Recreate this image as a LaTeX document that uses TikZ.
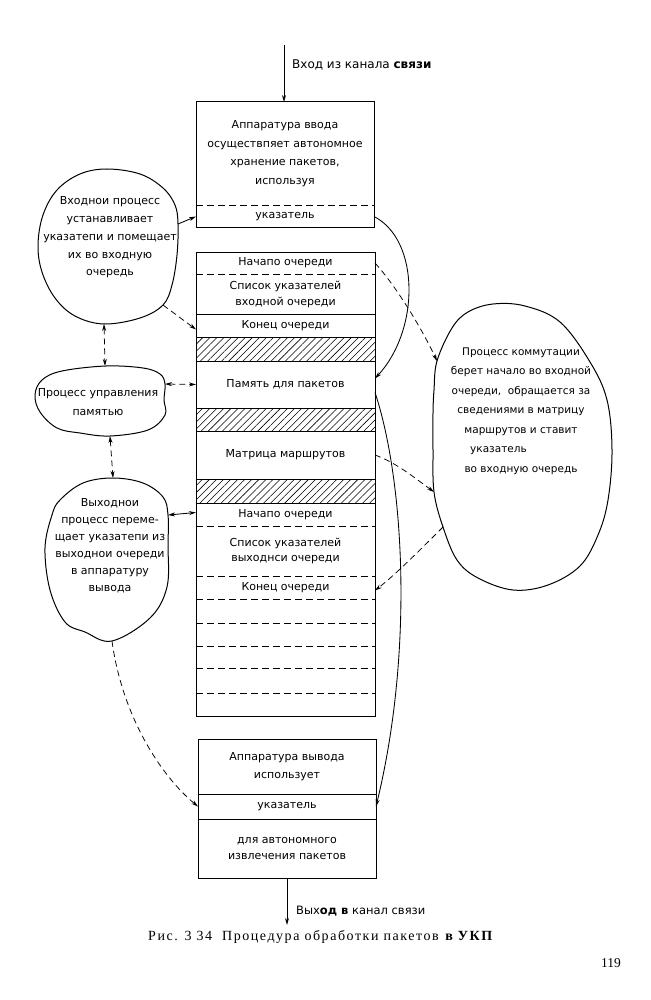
\documentclass[tikz,border=0pt]{standalone}
\usepackage{fontspec}
\setmainfont{DejaVu Sans}
\newfontfamily\capfont[LetterSpace=11]{Liberation Serif}
\newfontfamily\numfont{Liberation Serif}
\usetikzlibrary{arrows.meta,patterns.meta,calc}
\begin{document}
\begin{tikzpicture}[x=1pt,y=-1pt,
  font=\fontsize{11}{17}\selectfont,
  boxline/.style={line width=1pt},
  dsh/.style={line width=0.9pt, dash pattern=on 7pt off 4pt},
  cdsh/.style={line width=0.75pt, dash pattern=on 6pt off 4pt},
  arr/.style={-{Stealth[length=7pt,width=4pt]}, line width=0.85pt},
  darr/.style={{Stealth[length=7pt,width=4pt]}-{Stealth[length=7pt,width=4pt]}, line width=0.85pt},
  row/.style={minimum width=179pt, inner sep=0pt, outer sep=0pt, align=center},
  brow/.style={minimum width=178pt, inner sep=0pt, outer sep=0pt, align=center},
  hatchrow/.style={row, draw, line width=1pt, pattern={Lines[angle=45,distance=5pt,line width=0.55pt]}},
  blob/.style={line width=1pt},
  btext/.style={align=center, inner sep=0pt}
]
\useasboundingbox (0,0) rectangle (650,1000);

% ---------- top box ----------
\node[brow, minimum height=103pt, font=\fontsize{11}{18.5}\selectfont] (in1) at (285,153.5)
  {Аппаратура ввода\\осуществпяет автономное\\хранение пакетов,\\используя};
\node[brow, minimum height=23pt] (in2) at (285,216.5) {указатель};
\draw[boxline] (in1.north west) rectangle (in2.south east);
\draw[dsh] (in1.south west) -- (in1.south east);

% ---------- memory column ----------
\node[row, minimum height=22pt] (q1) at (285.5,263) {Начапо очереди};
\node[row, minimum height=40pt, font=\fontsize{11}{16}\selectfont] (q2) at (285.5,294) {Список указателей\\входной очереди};
\node[row, minimum height=23pt] (q3) at (285.5,325.5) {Конец очереди};
\node[hatchrow, minimum height=24pt] (h1) at (285.5,349) {};
\node[row, minimum height=47pt] (q4) at (285.5,384.5) {Память для пакетов};
\node[hatchrow, minimum height=23pt] (h2) at (285.5,419.5) {};
\node[row, minimum height=48pt] (q5) at (285.5,455) {Матрица маршрутов};
\node[hatchrow, minimum height=24pt] (h3) at (285.5,491) {};
\node[row, minimum height=23pt] (q6) at (285.5,514.5) {Начапо очереди};
\node[row, minimum height=50pt, font=\fontsize{11}{15.5}\selectfont] (q7) at (285.5,551) {Список указателей\\выходнси очереди};
\node[row, minimum height=23pt] (q8) at (285.5,587.5) {Конец очереди};
\node[row, minimum height=24pt] (e1) at (285.5,611) {};
\node[row, minimum height=23pt] (e2) at (285.5,634.5) {};
\node[row, minimum height=22pt] (e3) at (285.5,657) {};
\node[row, minimum height=25pt] (e4) at (285.5,680.5) {};
\node[row, minimum height=23pt] (e5) at (285.5,704.5) {};
\draw[boxline] (q1.north west) rectangle (e5.south east);
\draw[dsh] (q1.south west) -- (q1.south east);
\draw[boxline] (q2.south west) -- (q2.south east);
\foreach \r in {q6,q7,q8,e1,e2,e3,e4}{
  \draw[dsh] (\r.south west) -- (\r.south east);
}

% ---------- bottom box ----------
\node[brow, minimum height=55pt, font=\fontsize{11}{18}\selectfont] (o1) at (287,766.5) {Аппаратура вывода\\использует};
\node[brow, minimum height=25pt] (o2) at (287,806.5) {указатель};
\node[brow, minimum height=59pt, font=\fontsize{11}{16}\selectfont] (o3) at (287,848.5) {для автономного\\извлечения пакетов};
\draw[boxline] (o1.north west) rectangle (o3.south east);
\draw[boxline] (o1.south west) -- (o1.south east);
\draw[boxline] (o2.south west) -- (o2.south east);

% ---------- blobs ----------
\draw[blob] plot[smooth cycle, tension=0.6] coordinates {(107,169) (140,174) (163,188) (175,205) (178,224) (177,255) (172,285) (163,305) (140,318) (104,324) (75,316) (55,298) (42,272) (38,245) (43,215) (57,190) (80,174)};
\node[btext, font=\fontsize{11}{17.8}\selectfont] (b1) at (110,237.5) {Входнои процесс\\устанавливает\\указатепи и помещает\\их во входную\\очередь};

\draw[blob] plot[smooth cycle, tension=0.6] coordinates {(106,366) (143,368) (160,374) (165,384) (164,400) (165,415) (148,430) (110,436) (80,433) (57,428) (40,412) (35,395) (42,380) (62,371)};
\node[btext, font=\fontsize{11}{19}\selectfont] (b2) at (98,402.5) {Процесс управления\\памятью};

\draw[blob] plot[smooth cycle, tension=0.6] coordinates {(113,478) (143,483) (163,497) (168,515) (168,545) (167,587) (150,618) (112,641) (85,632) (65,622) (50,590) (45,548) (52,515) (60,500) (83,483)};
\node[btext, font=\fontsize{11}{17}\selectfont] (b3) at (110,546) {Выходнои\\процесс переме-\\щает указатепи из\\выходнои очереди\\в аппаратуру\\вывода};

\draw[blob] plot[smooth cycle, tension=0.6] coordinates {(437,361) (452,328) (468,312) (493,304) (525,306) (560,322) (590,362) (607,400) (612,450) (608,500) (598,535) (580,566) (548,585) (513,590) (478,578) (457,560) (443,527) (434,492) (433,450) (433,413) (434,390)};
\node[btext, font=\fontsize{10.5}{19.5}\selectfont] (b4) at (521,411) {Процесс коммутации\\берет начало во входной\\очереди,\ \ обращается за\\сведениями в матрицу\\маршрутов и ставит\\указатель\phantom{ааааааа}\\во входную очередь};

% blob anchor points
\coordinate (b1r) at (178,224);
\coordinate (b1br) at (163,305);
\coordinate (b1b) at (104,324);
\coordinate (b2t) at (105,366);
\coordinate (b2r) at (165,384);
\coordinate (b2b) at (110,436);
\coordinate (b3t) at (113,478);
\coordinate (b3r) at (168,515);
\coordinate (b3b) at (112,641);
\coordinate (b4a) at (437,361);
\coordinate (b4b) at (434,492);
\coordinate (b4c) at (443,527);
\coordinate (inpt) at (284,45);
\coordinate (outpt) at (287,925);

% ---------- connectors ----------
\draw[arr] (inpt) -- (in1.north -| inpt);
\node[anchor=west, inner sep=0pt, font=\fontsize{12}{14}\selectfont] (inlbl) at (292,65) {Вход из канала \textbf{связи}};
\draw[arr] (o3.south) -- (outpt);
\node[anchor=west, inner sep=0pt, font=\fontsize{11.5}{14}\selectfont] (outlbl) at (296,911) {Вых\textbf{од в} канал связи};

\draw[arr] (b1r) -- (in2.west);
\draw[arr, cdsh] (b1br) -- ($(q3.west)+(0,4)$);
\draw[darr, cdsh] (b1b) -- (b2t);
\draw[darr, cdsh] (b2r) -- (q4.west);
\draw[darr, cdsh] (b2b) -- (b3t);
\draw[darr] (b3r) -- ($(q6.west)+(0,-2)$);
\draw[arr, cdsh] (b3b) .. controls (122,715) and (160,775) .. (o2.west);

\draw[arr] (in2.east) .. controls (420,240) and (420,330) .. ($(q4.east)+(0,-6)$);
\draw[arr, cdsh] (q1.east) .. controls (395,285) and (420,325) .. (b4a);
\draw[arr] ($(q4.east)+(0,8)$) .. controls (404,480) and (414,650) .. (o2.east);
\draw[arr, cdsh] (q5.east) .. controls (395,462) and (415,478) .. (b4b);
\draw[arr, cdsh] (b4c) .. controls (420,550) and (395,575) .. ($(q8.east)+(0,3)$);

% ---------- caption ----------
\node[anchor=west, inner sep=0pt, font=\capfont\fontsize{14}{16}\selectfont] (cap) at (148,937) {Рис. 3 34\ \ Процедура обработки пакетов \textbf{в УКП}};
\node[anchor=west, inner sep=0pt, font=\numfont\fontsize{13.5}{15}\selectfont] (pg) at (601,963) {119};
\end{tikzpicture}
\end{document}
